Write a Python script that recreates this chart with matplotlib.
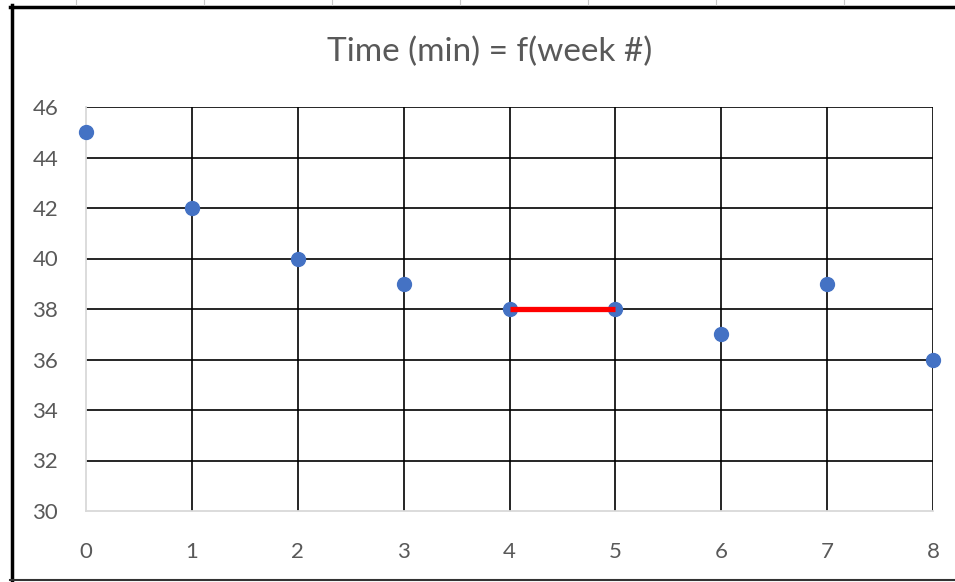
import matplotlib.pyplot as plt
from matplotlib.lines import Line2D

# weekly times (minutes)
weeks = [0, 1, 2, 3, 4, 5, 6, 7, 8]
times = [45, 42, 40, 39, 38, 38, 37, 39, 36]

# plateau highlighted in red
plateau_weeks = [4, 5]
plateau_times = [38, 38]

y_ticks = [30, 32, 34, 36, 38, 40, 42, 44, 46]

plt.rcParams["font.family"] = ["Lato", "DejaVu Sans"]

W, H = 955, 582
fig = plt.figure(figsize=(W / 100, H / 100), dpi=100)
ax = fig.add_axes([86 / W, 1 - 511 / H, (933 - 86) / W, (511 - 107) / H])

grid_c = "#000000"
axis_c = "#D9D9D9"
text_c = "#595959"

ax.set_xlim(0, 8)
ax.set_ylim(30, 46)
ax.set_xticks(weeks)
ax.set_yticks(y_ticks)

# gridlines: black, except the axis lines which stay light grey
for y in y_ticks[1:]:
    ax.axhline(y, color=grid_c, lw=1.2, zorder=1)
for x in weeks[1:]:
    ax.axvline(x, color=grid_c, lw=1.2, zorder=1)

for side in ["top", "right"]:
    ax.spines[side].set_visible(False)
for side in ["left", "bottom"]:
    ax.spines[side].set_color(axis_c)
    ax.spines[side].set_linewidth(1.3)

ax.tick_params(length=0, labelsize=16, colors=text_c)
ax.tick_params(axis="x", pad=22)
ax.tick_params(axis="y", pad=20)

ax.plot(weeks, times, "o", color="#4472C4", ms=10, zorder=3, clip_on=False)
ax.plot(plateau_weeks, plateau_times, color="#FF0000", lw=3.8,
        solid_capstyle="butt", zorder=4)

fig.text(490 / W, 1 - 52 / H, "Time (min) = f(week #)", ha="center",
         va="center", fontsize=24, color=text_c)

# chart frame and the sheet cell lines above it
fig.add_artist(Line2D([11.5 / W, 11.5 / W], [0, 1 - 5 / H],
                      color="black", lw=2.5, transform=fig.transFigure))
fig.add_artist(Line2D([10 / W, 1], [1 - 6.5 / H, 1 - 6.5 / H],
                      color="black", lw=2.5, transform=fig.transFigure))
fig.add_artist(Line2D([10 / W, 1], [1 - 579.5 / H, 1 - 579.5 / H],
                      color="#333333", lw=1.5, transform=fig.transFigure))
for cx in [76, 204, 332, 460, 588, 716, 844]:
    fig.add_artist(Line2D([cx / W, cx / W], [1 - 5 / H, 1],
                          color="#C8C8C8", lw=0.8, transform=fig.transFigure))

fig.savefig("out.png", dpi=100)
